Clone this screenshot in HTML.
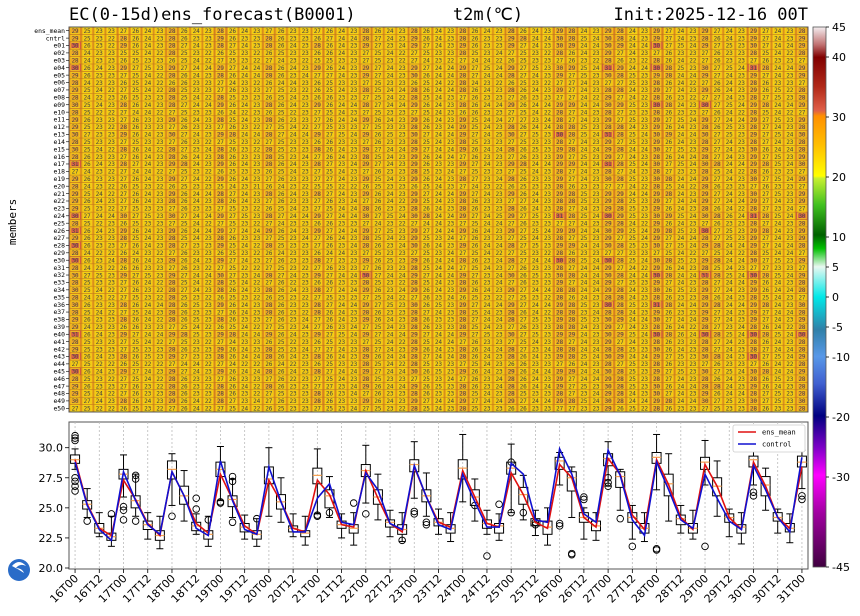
<!DOCTYPE html>
<html><head><meta charset="utf-8">
<style>
html,body{margin:0;padding:0;background:#fff;}
svg{display:block;font-family:"DejaVu Sans Mono","Liberation Mono",monospace;}
</style></head>
<body>
<svg id="chart" width="860" height="616" viewBox="0 0 860 616" xmlns="http://www.w3.org/2000/svg">
  <defs>
    <linearGradient id="cbar" x1="0" y1="0" x2="0" y2="1">
      <stop offset="0" stop-color="#f4eef0"/>
      <stop offset="0.033" stop-color="#c07070"/>
      <stop offset="0.056" stop-color="#800000"/>
      <stop offset="0.11" stop-color="#b02818"/>
      <stop offset="0.155" stop-color="#e06048"/>
      <stop offset="0.165" stop-color="#ff9000"/>
      <stop offset="0.22" stop-color="#ffc000"/>
      <stop offset="0.276" stop-color="#ffff00"/>
      <stop offset="0.28" stop-color="#c8f030"/>
      <stop offset="0.33" stop-color="#40c020"/>
      <stop offset="0.385" stop-color="#006000"/>
      <stop offset="0.41" stop-color="#00c000"/>
      <stop offset="0.444" stop-color="#e8f8f0"/>
      <stop offset="0.5" stop-color="#00e8e8"/>
      <stop offset="0.56" stop-color="#3080a8"/>
      <stop offset="0.61" stop-color="#5898e8"/>
      <stop offset="0.66" stop-color="#4060d0"/>
      <stop offset="0.72" stop-color="#000080"/>
      <stop offset="0.78" stop-color="#8000c8"/>
      <stop offset="0.83" stop-color="#ff00ff"/>
      <stop offset="0.9" stop-color="#a000a0"/>
      <stop offset="1" stop-color="#400040"/>
    </linearGradient>
  </defs>
  <text x="69" y="20" font-size="17" fill="#000">EC(0-15d)ens_forecast(B0001)</text>
  <text x="488" y="20" font-size="17" text-anchor="middle" fill="#000">t2m(℃)</text>
  <text x="808" y="20" font-size="17" text-anchor="end" fill="#000">Init:2025-12-16 00T</text>
  <text x="16" y="222" font-size="11" text-anchor="middle" transform="rotate(-90 16 222)">members</text>
  <g id="heat"></g>
  <g id="rowlabels"></g>
  <g id="box"></g>
  <g id="cb"></g>
  <g>
    <circle cx="19" cy="570" r="11" fill="#2a6cc8"/>
    <path d="M12 566 q7 -8 14 0 q-6 -3 -10 2 q6 0 8 5 q-6 -4 -12 -7z" fill="#fff"/>
  </g>
</svg>
<script>
// ---- data ----
const timeLabels = ["16T00","16T12","17T00","17T12","18T00","18T12","19T00","19T12","20T00","20T12","21T00","21T12","22T00","22T12","23T00","23T12","24T00","24T12","25T00","25T12","26T00","26T12","27T00","27T12","28T00","28T12","29T00","29T12","30T00","30T12","31T00"];
const ensMean = [29.0,25.3,23.3,22.7, 27.3,25.7,23.7,22.7, 28.0,26.0,23.7,22.9, 27.8,25.7,23.5,22.8, 27.3,25.5,23.3,23.0, 27.3,26.1,23.6,23.4, 28.1,25.8,23.7,23.0, 28.4,25.9,23.8,23.4, 28.1,25.9,23.7,23.4, 27.9,26.1,23.8,23.3, 28.6,27.5,24.2,23.4, 29.1,27.8,24.4,23.2, 29.0,26.9,24.2,23.2, 28.6,26.8,24.2,23.2, 28.8,26.8,24.2,23.3, 28.4];
const control = [28.8,25.2,23.2,22.3, 28.0,25.6,23.6,22.8, 28.0,26.0,23.3,22.7, 28.9,25.6,23.2,22.8, 28.4,25.5,23.0,23.0, 25.8,27.0,23.8,23.6, 27.9,26.5,23.7,23.2, 28.5,25.9,23.6,23.2, 27.8,25.5,23.4,23.4, 28.7,27.8,24.0,23.8, 29.9,27.8,24.5,23.8, 29.8,27.7,24.0,22.7, 28.8,26.5,24.0,23.3, 27.8,25.8,23.9,23.2, 28.5,26.5,24.2,23.0, 29.2];
const med = [29.0,25.3,23.3,22.6, 27.8,25.6,23.6,22.7, 28.2,26.0,23.5,22.8, 28.2,25.7,23.4,22.8, 27.4,25.5,23.3,22.9, 27.7,26.0,23.6,23.3, 28.1,25.9,23.8,23.2, 28.6,26.0,23.8,23.3, 28.3,25.9,23.7,23.5, 28.3,26.1,23.8,23.4, 28.9,27.5,24.2,23.5, 29.1,27.6,24.2,23.3, 29.2,27.0,24.1,23.3, 28.8,26.8,24.2,23.4, 29.0,26.9,24.2,23.3, 28.8];
const q1 = [28.7,24.9,22.9,22.3, 27.4,25.0,23.2,22.3, 27.4,25.3,23.1,22.4, 27.6,25.1,23.0,22.4, 27.0,24.9,23.0,22.6, 27.0,25.0,23.3,22.9, 27.6,25.3,23.4,22.8, 28.0,25.5,23.5,22.9, 27.4,25.2,23.3,22.9, 27.8,25.3,23.5,22.8, 28.2,26.4,23.8,23.1, 28.5,26.7,23.8,22.9, 28.7,26.0,23.6,22.9, 28.2,26.0,23.8,22.9, 28.4,26.0,23.9,23.0, 28.4];
const q3 = [29.4,25.6,23.7,22.9, 28.2,26.0,23.9,23.1, 28.9,26.8,23.8,23.1, 28.8,26.0,23.7,23.1, 28.4,26.1,23.5,23.1, 28.3,26.5,23.9,23.6, 28.6,26.5,24.0,23.6, 29.0,26.5,24.1,23.6, 29.0,26.5,24.0,23.7, 28.8,26.7,24.1,23.9, 29.2,28.0,24.6,23.9, 29.5,28.0,24.6,23.7, 29.6,27.8,24.4,23.7, 29.2,27.5,24.5,23.6, 29.3,27.6,24.6,23.7, 29.3];
const wlo = [28.2,24.2,22.6,21.8, 25.9,24.3,22.4,21.6, 25.2,23.9,22.8,21.8, 25.6,24.2,22.4,21.8, 24.3,23.8,22.6,21.9, 24.5,24.2,22.5,21.9, 25.4,24.0,22.6,22.2, 25.8,24.3,22.8,22.2, 25.5,23.9,22.8,22.3, 24.6,24.0,22.7,21.9, 26.9,24.2,22.4,22.3, 26.8,24.8,22.4,22.2, 26.5,23.9,22.9,22.4, 26.9,24.3,22.6,22.0, 26.9,24.8,22.9,22.1, 26.6];
const whi = [29.9,26.6,24.6,24.3, 29.4,27.8,24.6,24.3, 29.5,28.1,24.5,24.3, 30.1,27.4,24.4,24.1, 30.0,27.5,24.5,24.3, 29.9,27.6,24.5,24.6, 30.2,27.8,24.8,24.6, 30.5,27.9,24.9,24.6, 31.1,27.4,24.8,24.5, 30.3,27.7,24.8,25.0, 29.6,28.4,25.0,24.6, 30.5,28.2,25.2,24.6, 31.1,29.5,25.2,24.8, 30.6,28.9,24.9,24.6, 30.3,28.3,24.9,24.5, 29.8];
const outIdx = [0,0,0,0,0,0,0,1,3,4,4,4,5,5,5,8,10,10,11,12,12,13,13,13,15,20,20,21,23,24,27,28,28,29,29,33,34,35,36,36,37,38,38,40,40,41,41,42,42,44,44,44,45,46,48,48,52,56,56,60,60];
const outVal = [31.0,30.8,30.6,27.5,27.2,26.8,26.4,23.9,24.5,25.1,24.8,24.0,27.7,27.4,23.9,24.3,25.8,24.9,24.0,25.5,25.4,27.6,27.2,23.8,24.1,24.4,24.3,24.6,25.4,24.5,22.3,24.7,24.5,23.8,23.6,25.2,21.0,25.3,24.6,28.8,24.6,23.8,23.6,23.7,23.5,21.2,21.1,25.7,25.9,26.8,27.1,27.5,24.1,21.8,21.6,21.5,21.8,26.0,26.3,26.0,25.7];
const memberOffset = [0.6,-0.9,-1.2,0.9,0.4,-1.0,-0.2,-0.6,0.7,-0.9,0.1,-0.3,1.1,-0.5,0.3,-0.1,0.8,-0.7,0.2,-1.3,0.5,0.0,-0.4,1.3,-0.8,0.9,-0.2,0.4,-1.1,0.6,-0.6,1.0,-0.3,0.2,-0.9,0.7,-0.1,0.3,-0.5,1.2,-0.7,0.1,0.5,-1.0,0.8,-0.4,0.2,-0.2,0.6,-0.8];
const cbTicks = [45,40,30,20,10,5,0,-5,-10,-20,-30,-45];
const yTicks = [20.0,22.5,25.0,27.5,30.0];

const NS="http://www.w3.org/2000/svg";
function mk(tag,attrs,parent){const e=document.createElementNS(NS,tag);for(const k in attrs)e.setAttribute(k,attrs[k]);parent.appendChild(e);return e;}
const N = ensMean.length;
const HX0=69, HX1=808, HY0=27, HY1=412;
const cw=(HX1-HX0)/N;
const rowNames=["ens_mean","cntrl"];for(let i=1;i<=50;i++)rowNames.push("e"+String(i).padStart(2,"0"));
const rh=(HY1-HY0)/rowNames.length;
const xOf=i=>HX0+cw*(i+0.5);
const BY0=422,BY1=569;
const yOf=v=>568-(v-20)*12.03;

function cellColor(v){
  if(v>=30) return "#d85840";
  if(v>=27.5) return "#e48a20";
  if(v>=25) return "#e89a1c";
  return "#eca818";
}
function boxColor(v){
  if(v>=30) return "#d86048";
  if(v>=27.5) return "#eca428";
  return "#f0c814";
}
const heat=document.getElementById("heat");
mk("rect",{x:HX0,y:HY0,width:HX1-HX0,height:HY1-HY0,fill:"#e89a1c"},heat);
for(let r=0;r<rowNames.length;r++){
  for(let t=0;t<N;t++){
    let v;
    if(r===0) v=ensMean[t];
    else if(r===1) v=control[t];
    else { const m=r-2; const sp=(t%4===0)?1.2:(t%4===1?1.0:0.5); v=ensMean[t]+memberOffset[m]*sp+memberOffset[(m*7+t*3)%50]*0.6; }
    const vi=Math.round(v);
    const c=mk("rect",{x:HX0+t*cw,y:HY0+r*rh,width:cw,height:rh,fill:cellColor(v),stroke:"#b07020","stroke-width":0.3},heat);
    
    
    mk("rect",{x:HX0+t*cw+1.8,y:HY0+r*rh+0.8,width:cw-3.6,height:rh-1.6,fill:boxColor(v),stroke:"#f4d818","stroke-width":0.7},heat);
    const tx=mk("text",{x:xOf(t),y:HY0+r*rh+rh*0.8,"font-size":5.8,"text-anchor":"middle",fill:"#444"},heat);
    tx.textContent=vi;
    
    
  }
}
mk("rect",{x:HX0,y:HY0,width:HX1-HX0,height:HY1-HY0,fill:"none",stroke:"#555","stroke-width":1},heat);
const rl=document.getElementById("rowlabels");
rowNames.forEach((n,r)=>{
  const yy=HY0+(r+0.5)*rh;
  mk("line",{x1:HX0-3,x2:HX0,y1:yy,y2:yy,stroke:"#000","stroke-width":0.6},rl);
  const t=mk("text",{x:HX0-4,y:yy+2.2,"font-size":6.4,"text-anchor":"end",fill:"#000"},rl);
  t.textContent=n;
  
  
});
const bx=document.getElementById("box");
mk("rect",{x:HX0,y:BY0,width:HX1-HX0,height:BY1-BY0,fill:"#fff",stroke:"#555","stroke-width":1},bx);
timeLabels.forEach((lab,k)=>{
  const x=xOf(k*2);
  mk("line",{x1:x,x2:x,y1:BY0,y2:BY1,stroke:"#bbb","stroke-width":0.8,"stroke-dasharray":"2,2"},bx);
  mk("line",{x1:x,x2:x,y1:BY1,y2:BY1+4,stroke:"#000","stroke-width":0.8},bx);
  const t=mk("text",{x:x+4,y:BY1+10,"font-size":11,"text-anchor":"end",transform:`rotate(-45 ${x+4} ${BY1+10})`,"font-family":"DejaVu Sans, sans-serif"},bx);
  t.textContent=lab;
  
  
});
yTicks.forEach(v=>{
  const y=yOf(v);
  mk("line",{x1:HX0-4,x2:HX0,y1:y,y2:y,stroke:"#000","stroke-width":0.8},bx);
  const t=mk("text",{x:HX0-6,y:y+4,"font-size":11,"text-anchor":"end","font-family":"DejaVu Sans, sans-serif"},bx);
  t.textContent=v.toFixed(1);
  
  
});
for(let i=0;i<N;i++){
  const x=xOf(i),hw=4.5,cap=3.5;
  const g=mk("g",{},bx);
  
  
  mk("line",{x1:x,x2:x,y1:yOf(whi[i]),y2:yOf(q3[i]),stroke:"#000","stroke-width":1},g);
  mk("line",{x1:x,x2:x,y1:yOf(q1[i]),y2:yOf(wlo[i]),stroke:"#000","stroke-width":1},g);
  mk("line",{x1:x-cap,x2:x+cap,y1:yOf(whi[i]),y2:yOf(whi[i]),stroke:"#000","stroke-width":1},g);
  mk("line",{x1:x-cap,x2:x+cap,y1:yOf(wlo[i]),y2:yOf(wlo[i]),stroke:"#000","stroke-width":1},g);
  mk("rect",{x:x-hw,y:yOf(q3[i]),width:hw*2,height:yOf(q1[i])-yOf(q3[i]),fill:"none",stroke:"#000","stroke-width":1},g);
  mk("line",{x1:x-hw,x2:x+hw,y1:yOf(med[i]),y2:yOf(med[i]),stroke:"#f5a050","stroke-width":1.2},g);
}
outIdx.forEach((i,k)=>{
  const c=mk("circle",{cx:xOf(i),cy:yOf(outVal[k]),r:3.3,fill:"none",stroke:"#000","stroke-width":0.9},bx);
  
  
});
const pts=a=>a.map((v,i)=>xOf(i).toFixed(1)+","+yOf(v).toFixed(1)).join(" ");
const lm=mk("polyline",{points:pts(ensMean),fill:"none",stroke:"#e01010","stroke-width":1.6},bx);


const lc=mk("polyline",{points:pts(control),fill:"none",stroke:"#1010d0","stroke-width":1.6},bx);


const lg=mk("g",{},bx);


mk("rect",{x:733,y:425,width:72,height:27,fill:"#fff",stroke:"#ccc","stroke-width":0.8,rx:2},lg);
mk("line",{x1:738,x2:756,y1:432,y2:432,stroke:"#e01010","stroke-width":1.6},lg);
mk("line",{x1:738,x2:756,y1:444,y2:444,stroke:"#1010d0","stroke-width":1.6},lg);
const le1=mk("text",{x:762,y:434.5,"font-size":7},lg);le1.textContent="ens_mean";


const le2=mk("text",{x:762,y:446.5,"font-size":7},lg);le2.textContent="control";


const cb=document.getElementById("cb");
const CY0=27,CY1=567,CX=813,CW=13;
mk("rect",{x:CX,y:CY0,width:CW,height:CY1-CY0,fill:"url(#cbar)",stroke:"#555","stroke-width":0.8},cb);
const cy=v=>CY0+(45-v)/90*(CY1-CY0);
cbTicks.forEach(v=>{
  mk("line",{x1:CX+CW,x2:CX+CW+3,y1:cy(v),y2:cy(v),stroke:"#000","stroke-width":0.8},cb);
  const t=mk("text",{x:CX+CW+6,y:cy(v)+4,"font-size":11,"font-family":"DejaVu Sans, sans-serif"},cb);
  t.textContent=v;
  
  
});
</script>
</body></html>
